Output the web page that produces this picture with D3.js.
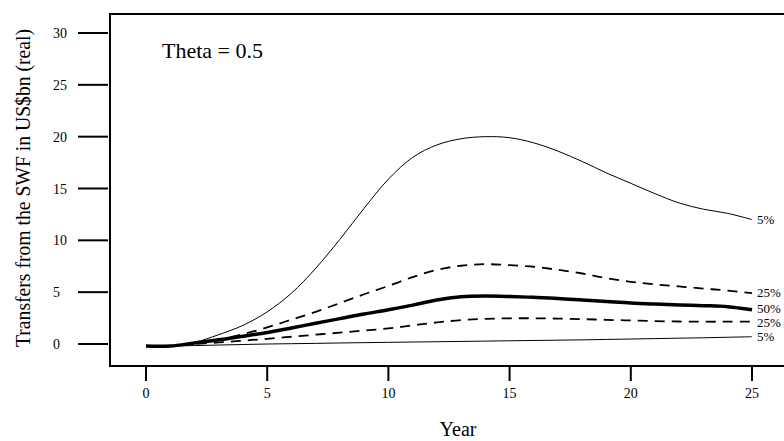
<!DOCTYPE html>
<html>
<head>
<meta charset="utf-8">
<script src="https://cdn.jsdelivr.net/npm/d3@7/dist/d3.min.js"></script>
<style>
  body { margin: 0; background: #fff; }
  svg text { font-family: "Liberation Serif", "Times New Roman", "DejaVu Serif", serif; }
</style>
</head>
<body>
<svg id="chart" width="784" height="441"></svg>
<script>
// years on the x axis
const years = d3.range(0, 26);

// quantile paths of transfers (US$bn, real)
const p95 = [-0.2, -0.2, 0.15, 0.9, 1.8, 3.1, 4.9, 7.3, 10.1, 13.1, 15.9, 18.0, 19.2, 19.8, 20.0, 19.9,
  19.4, 18.6, 17.6, 16.5, 15.5, 14.5, 13.6, 13.0, 12.6, 12.0];
const p75 = [-0.2, -0.2, 0.1, 0.45, 0.95, 1.6, 2.35, 3.1, 3.95, 4.8, 5.6, 6.45, 7.15, 7.55, 7.7, 7.6,
  7.45, 7.15, 6.8, 6.35, 6.0, 5.75, 5.55, 5.35, 5.15, 4.9];
const p50 = [-0.2, -0.2, 0.1, 0.4, 0.75, 1.1, 1.55, 2.0, 2.45, 2.9, 3.3, 3.75, 4.25, 4.55, 4.62, 4.58,
  4.5, 4.4, 4.25, 4.1, 3.95, 3.85, 3.77, 3.7, 3.6, 3.3];
const p25 = [-0.2, -0.2, 0.0, 0.15, 0.32, 0.5, 0.7, 0.9, 1.1, 1.3, 1.5, 1.8, 2.08, 2.3, 2.42, 2.48,
  2.48, 2.45, 2.4, 2.33, 2.27, 2.21, 2.17, 2.15, 2.15, 2.15];
const p05 = [-0.2, -0.2, -0.15, -0.1, -0.05, 0.0, 0.03, 0.06, 0.1, 0.13, 0.16, 0.19, 0.22, 0.25, 0.28, 0.31,
  0.34, 0.37, 0.4, 0.44, 0.48, 0.52, 0.56, 0.6, 0.65, 0.7];

const seriesLabels = ['5%', '25%', '50%', '25%', '5%'];
const xTicks = [0, 5, 10, 15, 20, 25];
const yTicks = [0, 5, 10, 15, 20, 25, 30];

const svg = d3.select('#chart');

const x = d3.scaleLinear().domain([0, 25]).range([146, 752]);
const y = d3.scaleLinear().domain([0, 30]).range([344, 33]);

// plot frame (runs past the right edge of the window)
svg.append('rect')
  .attr('x', 110).attr('y', 14)
  .attr('width', 696).attr('height', 352)
  .attr('fill', 'none')
  .attr('stroke', '#000')
  .attr('stroke-width', 2);

// y axis: long ticks left of the frame
const yAxis = svg.append('g');
yAxis.selectAll('line')
  .data(yTicks)
  .enter().append('line')
  .attr('x1', 78).attr('x2', 108)
  .attr('y1', d => y(d)).attr('y2', d => y(d))
  .attr('stroke', '#000')
  .attr('stroke-width', 2);
yAxis.selectAll('text')
  .data(yTicks)
  .enter().append('text')
  .attr('x', 53)
  .attr('y', d => y(d) + 5)
  .attr('font-size', 14)
  .text(d => d);

// x axis: ticks below the frame
const xAxis = svg.append('g');
xAxis.selectAll('line')
  .data(xTicks)
  .enter().append('line')
  .attr('x1', d => x(d)).attr('x2', d => x(d))
  .attr('y1', 367).attr('y2', 381)
  .attr('stroke', '#000')
  .attr('stroke-width', 2);
xAxis.selectAll('text')
  .data(xTicks)
  .enter().append('text')
  .attr('x', d => x(d))
  .attr('y', 398)
  .attr('text-anchor', 'middle')
  .attr('font-size', 14)
  .text(d => d);

// axis titles
svg.append('text')
  .attr('x', 458).attr('y', 436)
  .attr('text-anchor', 'middle')
  .attr('font-size', 20)
  .text('Year');

svg.append('text')
  .attr('transform', 'translate(30,188) rotate(-90)')
  .attr('text-anchor', 'middle')
  .attr('font-size', 21)
  .attr('textLength', 318)
  .attr('lengthAdjust', 'spacingAndGlyphs')
  .text('Transfers from the SWF in US$bn (real)');

svg.append('text')
  .attr('x', 162).attr('y', 58)
  .attr('font-size', 22)
  .text('Theta = 0.5');

// quantile lines
const series = [
  { values: p95, width: 1, dash: null },
  { values: p75, width: 1.8, dash: '10,7' },
  { values: p50, width: 3.5, dash: null },
  { values: p25, width: 1.8, dash: '10,7' },
  { values: p05, width: 1, dash: null },
];

const line = d3.line()
  .x((d, i) => x(years[i]))
  .y(d => y(d))
  .curve(d3.curveCatmullRom.alpha(0.5));

svg.append('g')
  .selectAll('path')
  .data(series)
  .enter().append('path')
  .attr('d', d => line(d.values))
  .attr('fill', 'none')
  .attr('stroke', '#000')
  .attr('stroke-width', d => d.width)
  .attr('stroke-dasharray', d => d.dash);

// labels at the end of each line, nudged apart where they crowd
const labelY = series.map(d => y(d.values[d.values.length - 1]));
const minGap = 14;
for (let pass = 0; pass < 10; pass += 1) {
  for (let i = 1; i < labelY.length; i += 1) {
    const gap = labelY[i] - labelY[i - 1];
    if (gap < minGap) {
      const shift = (minGap - gap) / 2;
      labelY[i - 1] -= shift;
      labelY[i] += shift;
    }
  }
}

svg.append('g')
  .selectAll('text')
  .data(series)
  .enter().append('text')
  .attr('x', 757)
  .attr('y', (d, i) => labelY[i] + 4)
  .attr('font-size', 13)
  .text((d, i) => seriesLabels[i]);
</script>
</body>
</html>
